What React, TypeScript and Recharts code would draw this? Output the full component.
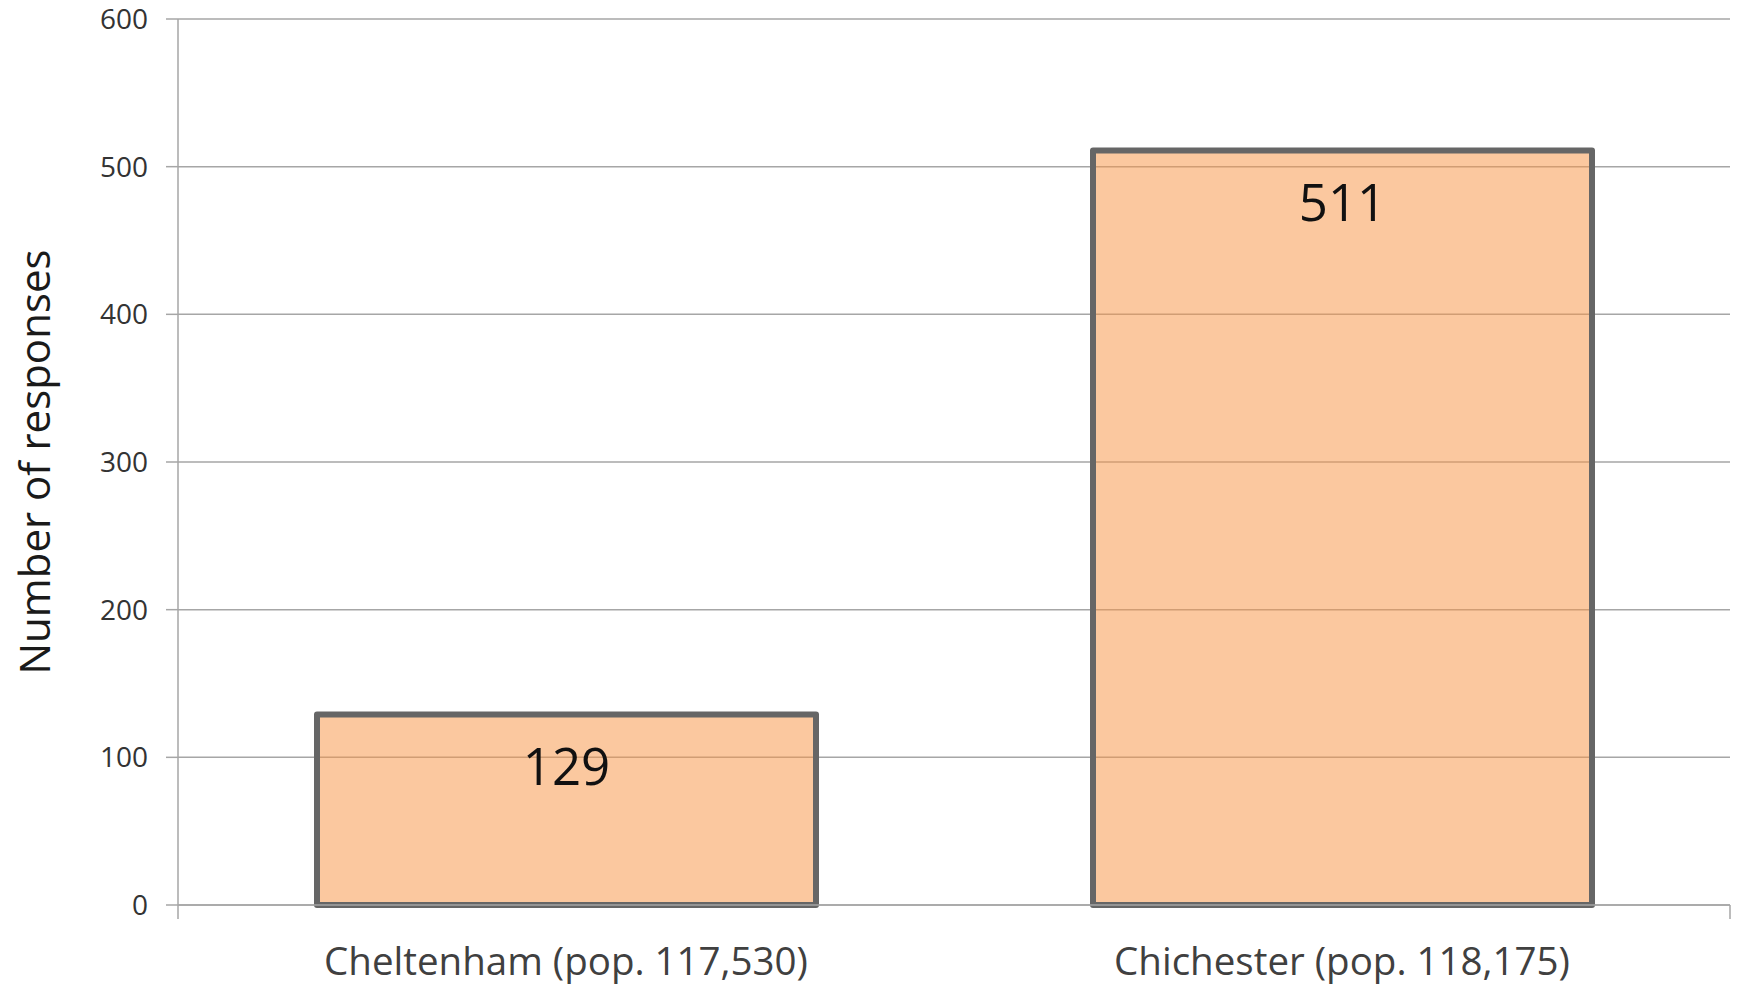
import { BarChart, Bar, XAxis, YAxis, CartesianGrid, LabelList, Label } from "recharts";

const towns = ["Cheltenham (pop. 117,530)", "Chichester (pop. 118,175)"];
const responses = [129, 511];
const yTicks = [0, 100, 200, 300, 400, 500, 600];
const edgeTicks = [0, 1, 2];

const data = towns.map((town, i) => ({ town, responses: responses[i] }));

const font = "'Open Sans', 'Noto Sans', sans-serif";
const gray = "#a6a6a6";

function YTitle(props: any) {
  const vb = props.viewBox;
  const cx = 33;
  const cy = vb.y + vb.height / 2;
  return (
    <text
      x={cx}
      y={cy}
      transform={`rotate(-90, ${cx}, ${cy})`}
      textAnchor="middle"
      dominantBaseline="central"
      fontSize={42}
      fontFamily={font}
      fill="#1a1a1a"
    >
      Number of responses
    </text>
  );
}

// tick marks only, no text
const NoText = () => <g />;

export default function App() {
  return (
    <div style={{ position: "absolute", left: 0, top: 0, background: "#fff" }}>
      <BarChart
        width={1737}
        height={988}
        data={data}
        margin={{ top: 19, right: 7, bottom: 0, left: 0 }}
      >
        <CartesianGrid
          vertical={false}
          stroke={gray}
          strokeWidth={1.5}
          xAxisId="b"
        />

        {/* boundary ticks between the categories, next to the plot */}
        <XAxis
          xAxisId="a"
          type="number"
          domain={[0, 2]}
          ticks={edgeTicks}
          interval={0}
          tick={<NoText />}
          tickSize={14}
          height={14}
          axisLine={{ stroke: gray, strokeWidth: 1.5 }}
          tickLine={{ stroke: gray, strokeWidth: 1.5 }}
        />

        <XAxis
          xAxisId="b"
          dataKey="town"
          height={69}
          interval={0}
          axisLine={false}
          tickLine={false}
          tickSize={0}
          tickMargin={29}
          tick={{ fontSize: 38.5, fontFamily: font, fill: "#404040" }}
        />

        <YAxis
          width={178}
          domain={[0, 600]}
          ticks={yTicks}
          interval={0}
          tickSize={12}
          tickMargin={18}
          axisLine={{ stroke: gray, strokeWidth: 1.5 }}
          tickLine={{ stroke: gray, strokeWidth: 1.5 }}
          tick={{ fontSize: 28, fontFamily: font, fill: "#333" }}
        >
          <Label content={<YTitle />} />
        </YAxis>

        <Bar
          xAxisId="b"
          dataKey="responses"
          barSize={499}
          fill="#F79646"
          fillOpacity={0.52}
          stroke="#666666"
          strokeWidth={6}
          strokeLinejoin="round"
          isAnimationActive={false}
        >
          <LabelList
            dataKey="responses"
            position="insideTop"
            offset={34}
            fontSize={51}
            fontFamily={font}
            fill="#111"
          />
        </Bar>
      </BarChart>
    </div>
  );
}
